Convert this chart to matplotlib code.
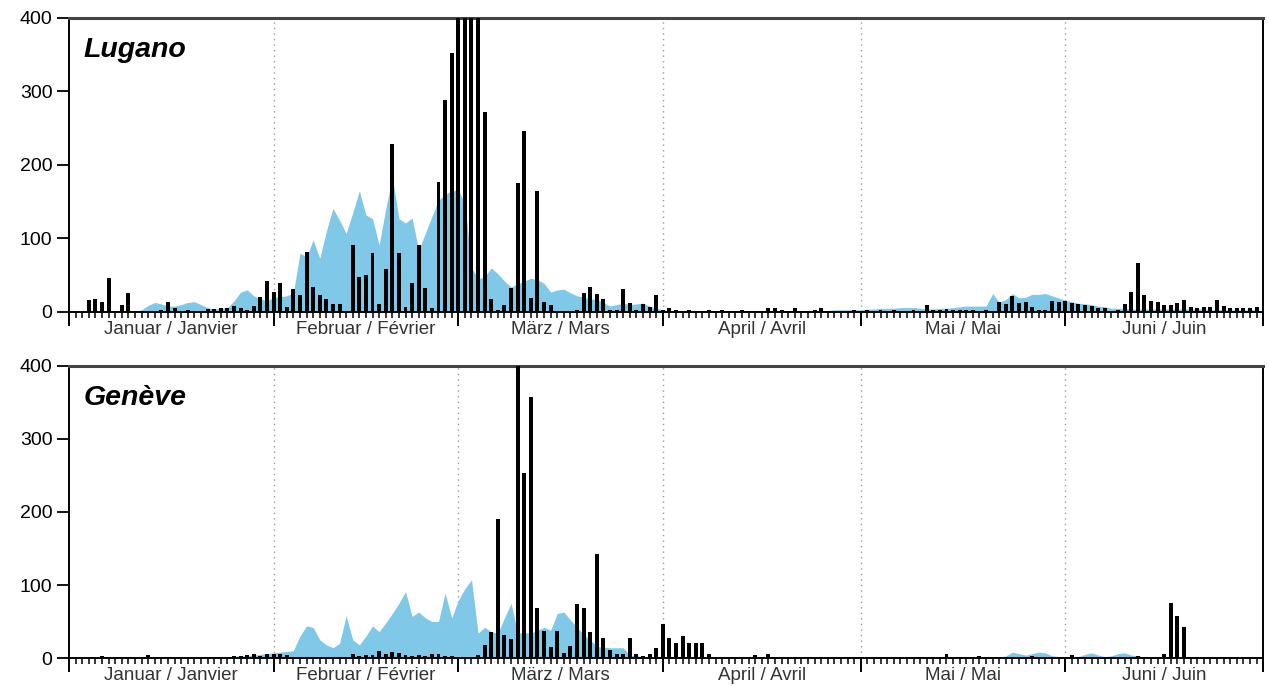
import numpy as np
import matplotlib
matplotlib.use('Agg')
import matplotlib.pyplot as plt
import matplotlib.transforms as mtransforms

plt.rcParams['font.family'] = ['Liberation Sans', 'DejaVu Sans']

# daily values, 1 Jan - 30 Jun (181 days)
month_names = ['Januar / Janvier', 'Februar / Février', 'März / Mars',
               'April / Avril', 'Mai / Mai', 'Juni / Juin']
month_lengths = [31, 28, 31, 30, 31, 30]

lugano_bars = (
    # Jan
    [0, 0, 0, 16, 18, 14, 46, 2, 10, 26, 2, 2, 2, 2, 3, 14, 6, 2, 3, 2, 2, 4, 4, 5, 5, 8, 6, 3, 8, 21, 42]
    # Feb
    + [27, 39, 7, 31, 23, 82, 34, 23, 18, 11, 11, 2, 91, 48, 50, 80, 11, 59, 229, 80, 7, 39, 91, 32, 5, 177, 288, 353]
    # Mar
    + [640, 560, 600, 470, 272, 17, 3, 10, 32, 176, 246, 19, 165, 13, 10, 2, 2, 2, 3, 26, 34, 24, 17, 3, 3, 31, 12, 3, 11, 7, 23]
    # Apr
    + [3, 6, 3, 2, 3, 2, 2, 3, 2, 3, 2, 2, 3, 2, 2, 2, 5, 6, 3, 2, 5, 2, 2, 3, 6, 2, 2, 2, 2, 3]
    # May
    + [2, 3, 2, 3, 2, 3, 2, 2, 3, 2, 10, 3, 3, 4, 3, 3, 3, 3, 2, 3, 2, 13, 11, 22, 12, 13, 7, 3, 3, 15, 14]
    # Jun
    + [15, 12, 11, 10, 8, 5, 5, 2, 3, 11, 27, 66, 23, 15, 13, 10, 10, 12, 16, 7, 5, 7, 7, 16, 8, 5, 5, 5, 5, 7]
)

lugano_area = (
    [0, 0, 0, 0, 0, 0, 0, 0, 0, 0, 1, 3, 9, 13, 11, 8, 8, 10, 13, 14, 10, 6, 4, 5, 6, 15, 27, 30, 22, 18, 15]
    + [20, 21, 22, 26, 80, 75, 98, 73, 110, 141, 125, 107, 135, 165, 132, 127, 91, 140, 184, 127, 121, 128, 84, 107, 130, 152, 160, 165]
    + [166, 148, 60, 45, 48, 60, 52, 42, 34, 38, 42, 46, 44, 39, 27, 30, 31, 26, 22, 20, 18, 17, 13, 8, 10, 12, 10, 11, 12, 8, 5]
    + [3, 2, 2, 2, 2, 2, 2, 2, 2, 2, 2, 2, 2, 2, 2, 2, 2, 2, 2, 2, 2, 2, 2, 2, 2, 2, 3, 3, 3, 3]
    + [3, 4, 4, 5, 5, 5, 6, 6, 6, 5, 4, 4, 5, 5, 6, 7, 8, 8, 8, 8, 25, 13, 17, 25, 19, 20, 24, 24, 25, 22, 19]
    + [16, 14, 12, 11, 10, 8, 7, 5, 5, 5, 4, 4, 4, 4, 4, 4, 4, 4, 4, 4, 4, 4, 3, 3, 3, 3, 3, 3, 3, 3]
)

geneve_bars = (
    [0, 0, 0, 0, 0, 3, 0, 0, 0, 0, 0, 0, 4, 0, 0, 0, 0, 0, 0, 0, 0, 0, 0, 0, 0, 3, 3, 4, 5, 3, 6]
    + [5, 6, 4, 1, 1, 1, 1, 1, 1, 1, 1, 1, 5, 3, 4, 4, 10, 5, 8, 7, 4, 3, 4, 3, 5, 5, 3, 3]
    + [2, 2, 2, 4, 18, 36, 190, 31, 26, 420, 253, 357, 68, 37, 15, 37, 7, 16, 74, 68, 36, 142, 27, 11, 5, 6, 27, 5, 3, 5, 14]
    + [47, 27, 20, 30, 21, 20, 20, 6, 1, 1, 1, 1, 1, 1, 4, 1, 5, 1, 1, 1, 1, 1, 1, 1, 1, 1, 1, 1, 1, 1]
    + [1, 1, 1, 1, 1, 1, 1, 1, 1, 1, 1, 1, 1, 5, 1, 1, 1, 1, 3, 1, 1, 1, 1, 1, 1, 1, 3, 1, 1, 1, 1]
    + [1, 4, 1, 1, 1, 1, 1, 1, 1, 1, 1, 3, 1, 1, 1, 6, 75, 58, 42, 1, 1, 1, 1, 1, 1, 1, 1, 1, 1, 1]
)

geneve_area = (
    [0, 0, 0, 1, 1, 1, 1, 1, 1, 1, 1, 1, 1, 1, 1, 1, 1, 1, 1, 1, 1, 1, 1, 1, 1, 2, 3, 3, 4, 5, 6]
    + [7, 8, 9, 10, 30, 44, 42, 25, 18, 14, 20, 58, 25, 18, 30, 44, 36, 48, 61, 75, 91, 57, 63, 55, 50, 50, 89, 55]
    + [79, 95, 107, 34, 42, 36, 34, 55, 75, 34, 35, 34, 38, 42, 38, 61, 63, 52, 42, 32, 25, 16, 15, 14, 14, 14, 4, 3, 2, 2, 1]
    + [1, 1, 1, 1, 1, 1, 1, 1, 1, 1, 1, 1, 1, 1, 1, 1, 1, 1, 1, 1, 1, 1, 1, 1, 1, 1, 1, 1, 1, 1]
    + [1, 1, 1, 1, 1, 1, 1, 1, 1, 1, 1, 1, 1, 1, 1, 1, 1, 1, 1, 1, 1, 1, 3, 8, 6, 4, 6, 8, 7, 3, 2]
    + [2, 2, 2, 5, 7, 4, 2, 3, 6, 7, 4, 3, 1, 1, 1, 1, 1, 1, 1, 1, 1, 1, 1, 1, 1, 1, 1, 1, 1, 1]
)

stations = ['Lugano', 'Genève']

days = np.arange(sum(month_lengths))
month_starts = np.concatenate([[0], np.cumsum(month_lengths)])
month_mids = month_starts[:-1] + np.array(month_lengths) / 2

fig = plt.figure(figsize=(12.69, 6.86), dpi=100)
ax_top = fig.add_axes([0.0544, 0.5452, 0.941, 0.4286])
ax_bot = fig.add_axes([0.0544, 0.0408, 0.941, 0.4257])

for ax, name, bars, area in [(ax_top, stations[0], lugano_bars, lugano_area),
                             (ax_bot, stations[1], geneve_bars, geneve_area)]:
    ax.fill_between(days, area, color='#7fc8e8', lw=0, zorder=1)
    ax.bar(days, bars, width=0.6, color='black', zorder=3)

    for m in month_starts[1:-1]:
        ax.axvline(m, color='#999999', ls=(0, (1, 3)), lw=1, zorder=0)

    ax.set_xlim(0, 181)
    ax.set_ylim(0, 400)
    ax.set_yticks([0, 100, 200, 300, 400])
    ax.tick_params(axis='y', direction='out', length=9, width=1.3, labelsize=14, pad=3)

    ax.set_xticks(month_starts)
    ax.set_xticks(days, minor=True)
    ax.tick_params(axis='x', which='major', direction='out', length=10, width=1.4, labelbottom=False)
    ax.tick_params(axis='x', which='minor', direction='out', length=4, width=1.1)

    trans = mtransforms.blended_transform_factory(ax.transData, ax.transAxes)
    for mid, label in zip(month_mids, month_names):
        ax.text(mid, -0.032, label, transform=trans, ha='center', va='top',
                fontsize=13.5, color='#333333')

    for side in ['left', 'right', 'bottom']:
        ax.spines[side].set_linewidth(1.4)
        ax.spines[side].set_color('black')
    ax.spines['top'].set_linewidth(2.2)
    ax.spines['top'].set_color('#444444')

    ax.text(0.012, 0.89, name, transform=ax.transAxes, fontsize=20.5,
            fontweight='bold', fontstyle='italic', ha='left', va='center')

plt.savefig('out.png', dpi=100)
